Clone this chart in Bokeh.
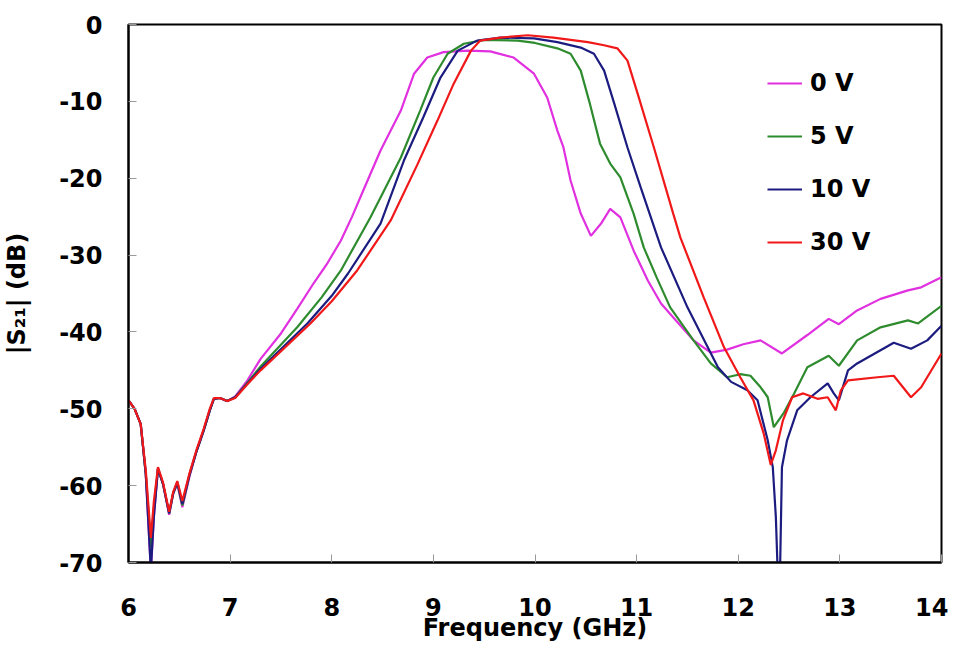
from bokeh.plotting import figure
from bokeh.models import Range1d, FixedTicker, Legend, LegendItem, PrintfTickFormatter
from bokeh.embed import file_html
from bokeh.resources import INLINE

# ---- data ----
low_freq = [6.00, 6.06, 6.12, 6.17, 6.22, 6.25, 6.29, 6.34, 6.40, 6.44, 6.48,
            6.53, 6.60, 6.67, 6.74, 6.80, 6.84, 6.90, 6.97, 7.05, 7.17]
low_0v = [-48.9, -50.0, -52.0, -58.5, -71.0, -64.0, -57.8, -59.8, -63.8, -61.0, -59.8,
          -62.8, -58.8, -55.5, -52.8, -50.2, -48.7, -48.6, -49.0, -48.4, -46.3]
low_5v = [-48.9, -50.0, -52.0, -58.5, -68.0, -63.0, -57.8, -59.8, -63.6, -61.0, -59.6,
          -62.6, -58.6, -55.5, -52.8, -50.2, -48.7, -48.6, -49.0, -48.5, -46.6]
low_10v = [-48.9, -50.0, -52.0, -58.5, -71.0, -64.0, -57.8, -59.8, -63.6, -61.0, -59.6,
           -62.4, -58.6, -55.5, -52.8, -50.2, -48.7, -48.6, -49.0, -48.5, -46.7]
low_30v = [-48.9, -50.0, -52.0, -58.0, -66.8, -62.0, -57.6, -59.6, -63.4, -60.8, -59.4,
           -62.0, -58.4, -55.3, -52.6, -50.0, -48.6, -48.6, -49.0, -48.6, -46.8]

freq_0v = [7.30, 7.50, 7.66, 7.82, 7.96, 8.09, 8.20, 8.31, 8.48, 8.68, 8.81, 8.94,
           9.10, 9.34, 9.56, 9.79, 9.99, 10.12, 10.22, 10.28, 10.35, 10.45, 10.55,
           10.65, 10.74, 10.84, 10.97, 11.11, 11.24, 11.40, 11.56, 11.73, 11.89,
           12.05, 12.22, 12.43, 12.68, 12.89, 12.99, 13.17, 13.40, 13.67, 13.80, 14.00]
s21_0v = [-43.5, -40.2, -37.0, -33.7, -31.0, -28.1, -25.0, -21.6, -16.4, -11.2, -6.4, -4.3,
          -3.6, -3.4, -3.5, -4.3, -6.4, -9.5, -13.8, -16.0, -20.3, -24.6, -27.5,
          -25.9, -24.0, -25.1, -29.4, -33.3, -36.3, -38.7, -41.1, -42.7, -42.3,
          -41.6, -41.1, -42.8, -40.4, -38.3, -39.0, -37.2, -35.7, -34.6, -34.2, -32.9]

freq_5v = [7.30, 7.66, 7.90, 8.09, 8.38, 8.68, 8.87, 9.00, 9.14, 9.30, 9.50, 9.83,
           10.00, 10.22, 10.35, 10.45, 10.54, 10.64, 10.74, 10.84, 10.97, 11.07,
           11.20, 11.33, 11.56, 11.73, 11.89, 12.02, 12.12, 12.22, 12.29, 12.35,
           12.45, 12.55, 12.68, 12.89, 12.99, 13.17, 13.40, 13.67, 13.77, 14.00]
s21_5v = [-44.5, -39.4, -35.5, -32.0, -25.1, -17.3, -11.2, -6.9, -3.8, -2.5, -2.0, -2.1,
          -2.4, -3.1, -3.8, -6.0, -10.3, -15.5, -18.1, -19.9, -24.6, -29.0,
          -33.0, -36.8, -41.1, -44.1, -45.9, -45.5, -45.7, -47.2, -48.5, -52.4,
          -50.5, -48.0, -44.6, -43.1, -44.4, -41.1, -39.4, -38.5, -38.9, -36.6]

freq_10v = [7.30, 7.76, 8.00, 8.16, 8.48, 8.71, 8.90, 9.07, 9.24, 9.43, 9.66, 9.99,
            10.22, 10.45, 10.58, 10.68, 10.78, 10.91, 11.04, 11.24, 11.50, 11.70,
            11.80, 11.93, 12.09, 12.19, 12.29, 12.34, 12.37, 12.39, 12.41, 12.43,
            12.48, 12.58, 12.71, 12.88, 12.94, 12.99, 13.08, 13.17, 13.53, 13.70,
            13.86, 14.00]
s21_10v = [-44.8, -38.9, -35.3, -32.4, -25.9, -17.7, -12.1, -6.9, -3.4, -2.1, -1.7, -1.8,
           -2.3, -3.0, -3.8, -6.0, -10.3, -16.0, -21.2, -29.0, -36.8, -42.0,
           -44.6, -46.5, -47.6, -48.9, -54.1, -57.6, -64.1, -72.0, -72.0, -57.6,
           -54.1, -50.2, -48.5, -46.7, -48.0, -48.9, -45.0, -44.1, -41.4, -42.2,
           -41.1, -39.2]

freq_30v = [7.30, 7.79, 8.00, 8.25, 8.58, 8.84, 9.04, 9.20, 9.37, 9.46, 9.66, 9.93,
            10.18, 10.52, 10.68, 10.81, 10.91, 11.01, 11.17, 11.36, 11.43, 11.66,
            11.86, 12.02, 12.15, 12.25, 12.32, 12.37, 12.44, 12.53, 12.64, 12.78,
            12.88, 12.96, 13.01, 13.08, 13.37, 13.53, 13.70, 13.80, 14.00]
s21_30v = [-45.0, -38.9, -36.0, -32.0, -25.5, -18.3, -12.5, -7.7, -3.4, -2.1, -1.7, -1.4,
           -1.7, -2.3, -2.7, -3.1, -4.7, -9.0, -16.0, -24.6, -27.7, -35.5,
           -42.0, -45.9, -48.9, -53.2, -57.3, -55.4, -51.5, -48.5, -48.0, -48.7,
           -48.5, -50.2, -47.6, -46.3, -45.9, -45.7, -48.5, -47.2, -42.8]

labels = ["0 V", "5 V", "10 V", "30 V"]
colors = ["#E030E0", "#2E8B2E", "#1C1C80", "#F01818"]
x_ticks = [6, 7, 8, 9, 10, 11, 12, 13, 14]
y_ticks = [0, -10, -20, -30, -40, -50, -60, -70]

series = [
    (low_freq + freq_0v, low_0v + s21_0v),
    (low_freq + freq_5v, low_5v + s21_5v),
    (low_freq + freq_10v, low_10v + s21_10v),
    (low_freq + freq_30v, low_30v + s21_30v),
]

FONT = "DejaVu Sans"

p = figure(width=948, height=645, output_backend="svg", toolbar_location=None,
           x_range=Range1d(6, 14), y_range=Range1d(-70, 0),
           min_border_left=128, min_border_right=7, min_border_top=24,
           min_border_bottom=83)
p.background_fill_color = "white"
p.border_fill_color = "white"
p.outline_line_color = "black"
p.outline_line_width = 2
p.grid.visible = False

renderers = []
for (xs, ys), c in zip(series, colors):
    r = p.line(xs, ys, line_color=c, line_width=2.2)
    renderers.append(r)

for ax in (p.xaxis[0], p.yaxis[0]):
    ax.axis_line_color = "black"
    ax.axis_line_width = 2
    ax.major_tick_in = 8
    ax.major_tick_out = 0
    ax.major_tick_line_color = "#999999"
    ax.major_tick_line_width = 1
    ax.minor_tick_line_color = None
    ax.major_label_text_font = FONT
    ax.major_label_text_font_style = "bold"
    ax.major_label_text_font_size = "24px"
    ax.major_label_text_color = "black"
    ax.axis_label_text_font = FONT
    ax.axis_label_text_font_style = "bold"
    ax.axis_label_text_font_size = "24px"
    ax.axis_label_text_color = "black"
    ax.formatter = PrintfTickFormatter(format="%d")

p.xaxis[0].ticker = FixedTicker(ticks=x_ticks)
p.yaxis[0].ticker = FixedTicker(ticks=y_ticks)
p.xaxis[0].axis_label = "Frequency (GHz)"
p.yaxis[0].axis_label = "|S₂₁| (dB)"
p.xaxis[0].major_label_standoff = 35
p.xaxis[0].axis_label_standoff = -5
p.yaxis[0].major_label_standoff = 26
p.yaxis[0].axis_label_standoff = 25

legend = Legend(items=[LegendItem(label=l, renderers=[r]) for l, r in zip(labels, renderers)],
                location=(639, 306))
legend.border_line_alpha = 0
legend.background_fill_alpha = 0
legend.padding = 0
legend.margin = 0
legend.glyph_width = 35
legend.glyph_height = 20
legend.label_height = 20
legend.spacing = 25
legend.label_standoff = 8
legend.label_text_font = FONT
legend.label_text_font_style = "bold"
legend.label_text_font_size = "24px"
legend.label_text_color = "black"
p.add_layout(legend, "center")

open("out.html", "w").write(file_html(p, INLINE))
